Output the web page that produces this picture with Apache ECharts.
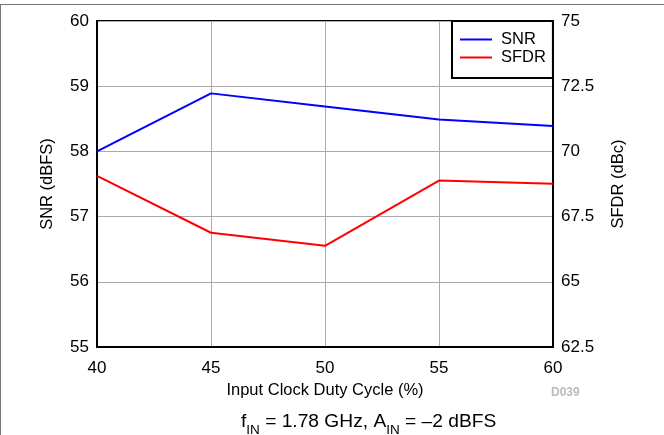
<!DOCTYPE html>
<html><head><meta charset="utf-8">
<script src="https://cdn.jsdelivr.net/npm/echarts@6/dist/echarts.min.js"></script>
<style>html,body{margin:0;padding:0;background:#fff}#c{width:664px;height:435px}</style>
</head><body><div id="c"></div>
<script>
const dutyCycle = [40, 45, 50, 55, 60];
const snr = [58.0, 58.89, 58.69, 58.49, 58.39];
const sfdr = [69.06, 66.88, 66.38, 68.88, 68.76];

const F = 'Liberation Sans, Arial, sans-serif';
const chart = echarts.init(document.getElementById('c'));
chart.setOption({
  animation: false,
  textStyle: {fontFamily: F},
  grid: {left: 97, right: 111, top: 21, bottom: 88, show: true, borderColor: '#000', borderWidth: 2, backgroundColor: 'transparent'},
  legend: {
    left: 452, top: 21, orient: 'vertical', itemWidth: 32, itemHeight: 2, itemGap: 1,
    padding: [10, 7, 12, 8], borderColor: '#000', borderWidth: 2, backgroundColor: '#fff',
    textStyle: {fontFamily: F, fontSize: 16.5, color: '#000', padding: [0, 0, 0, 4]},
    icon: 'rect',
    data: ['SNR', 'SFDR']
  },
  xAxis: {
    type: 'value', min: 40, max: 60, interval: 5,
    name: 'Input Clock Duty Cycle (%)', nameLocation: 'middle', nameGap: 31,
    nameTextStyle: {fontFamily: F, fontSize: 16.5, color: '#000'},
    axisLine: {lineStyle: {color: '#000', width: 2}},
    axisTick: {show: false},
    axisLabel: {fontFamily: F, fontSize: 17, color: '#000', margin: 13},
    splitLine: {show: true, lineStyle: {color: '#aaa', width: 1}}
  },
  yAxis: [{
    type: 'value', min: 55, max: 60, interval: 1,
    name: 'SNR (dBFS)', nameLocation: 'middle', nameGap: 41,
    nameTextStyle: {fontFamily: F, fontSize: 16.5, color: '#000'},
    axisLine: {show: true, lineStyle: {color: '#000', width: 2}},
    axisTick: {show: false},
    axisLabel: {fontFamily: F, fontSize: 17, color: '#000', margin: 8},
    splitLine: {show: true, lineStyle: {color: '#aaa', width: 1}}
  }, {
    type: 'value', min: 62.5, max: 75, interval: 2.5, position: 'right',
    name: 'SFDR (dBc)', nameLocation: 'middle', nameGap: 57, nameRotate: 90,
    nameTextStyle: {fontFamily: F, fontSize: 16.5, color: '#000'},
    axisLine: {show: true, lineStyle: {color: '#000', width: 2}},
    axisTick: {show: false},
    axisLabel: {fontFamily: F, fontSize: 17, color: '#000', margin: 8},
    splitLine: {show: false}
  }],
  series: [{
    name: 'SNR', type: 'line', yAxisIndex: 0, symbol: 'none',
    data: dutyCycle.map((x, i) => [x, snr[i]]),
    lineStyle: {color: '#0000ff', width: 2}, itemStyle: {color: '#0000ff'}, z: 3
  }, {
    name: 'SFDR', type: 'line', yAxisIndex: 1, symbol: 'none',
    data: dutyCycle.map((x, i) => [x, sfdr[i]]),
    lineStyle: {color: '#ff0000', width: 2}, itemStyle: {color: '#ff0000'}, z: 3
  }],
  graphic: [
    {type: 'line', shape: {x1: 0, y1: 4.5, x2: 664, y2: 4.5}, style: {stroke: '#777', lineWidth: 1}},
    {type: 'line', shape: {x1: 0.5, y1: 4, x2: 0.5, y2: 435}, style: {stroke: '#777', lineWidth: 1}},
    {type: 'text', left: 551, top: 387, style: {text: 'D039', font: 'bold 12px ' + F, fill: '#bbb'}},
    {type: 'text', left: 241, top: 412, style: {
      text: '{n|f}{s|IN}{n| = 1.78 GHz, A}{s|IN}{n| = \u20132 dBFS}',
      rich: {
        n: {fontFamily: F, fontSize: 19.2, fill: '#000', verticalAlign: 'bottom', lineHeight: 22},
        s: {fontFamily: F, fontSize: 13.5, fill: '#000', verticalAlign: 'bottom', padding: [0, 0, -6, 0], lineHeight: 22}
      }
    }}
  ]
});
</script></body></html>
